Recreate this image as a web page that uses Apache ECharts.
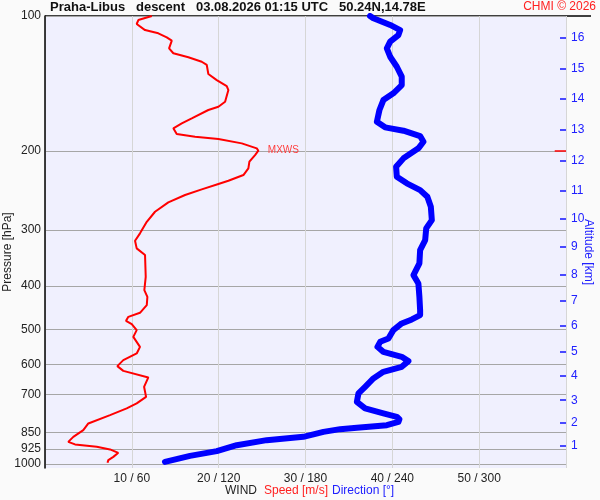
<!DOCTYPE html>
<html>
<head>
<meta charset="utf-8">
<script src="https://cdn.jsdelivr.net/npm/echarts@6/dist/echarts.min.js"></script>
<style>
  html, body { margin: 0; padding: 0; background: #fafafa; }
  #chart { width: 600px; height: 500px; }
</style>
</head>
<body>
<div id="chart"></div>
<script>
const FONT = '"Liberation Sans", Arial, sans-serif';

// pressure levels on the left axis
const pressureTicks = [100, 200, 300, 400, 500, 600, 700, 850, 925, 1000];
// altitude marks on the right axis (km and the pressure where they sit)
const altKm = [1, 2, 3, 4, 5, 6, 7, 8, 9, 10, 11, 12, 13, 14, 15, 16];
const altP = [910, 809, 720, 636, 560, 491, 431, 377, 327, 284, 245, 210, 179, 153, 131, 112];

// wind speed profile [m/s] vs pressure [hPa]
const speedP = [100, 102.1, 104.2, 107.5, 109.3, 111.6, 113.5, 118.1, 121.1, 123.6,
  126.5, 128.6, 134.7, 139.0, 143.3, 146.3, 155.4, 159.4, 162.1, 169.2,
  173.6, 178.1, 183.4, 186.0, 188.2, 192.4, 197.4, 199.8, 204.3, 211.4,
  218.8, 226.4, 233.2, 237.1, 243.7, 250.9, 260.5, 273.4, 287.9, 305.5,
  317.4, 330.0, 341.6, 381.9, 409.0, 423.3, 441.7, 459.5, 469.1, 478.8,
  487.0, 502.3, 519.9, 547.3, 566.2, 586.1, 604.4, 619.2, 640.5, 672.1,
  707.6, 732.0, 751.1, 777.4, 811.3, 839.7, 869.1, 891.7, 903.7, 914.9,
  927.2, 943.6, 963.2, 979.7, 993.3];
const speedV = [12.3, 10.75, 10.56, 11.52, 13.05, 14.02, 14.6, 14.29, 14.78, 16.51,
  18.05, 18.63, 18.81, 19.78, 20.93, 21.12, 20.74, 19.97, 18.81, 16.9,
  15.75, 14.78, 15.17, 17.28, 19.97, 22.66, 24.39, 24.57, 24.19, 23.54,
  23.42, 22.85, 21.12, 19.97, 18.05, 16.13, 14.2, 12.67, 11.72, 10.94,
  10.37, 10.56, 11.52, 11.6, 11.44, 11.79, 11.72, 10.94, 9.6, 9.33,
  9.99, 10.56, 10.17, 10.94, 10.56, 9.02, 8.33, 9.02, 11.9, 11.41,
  11.64, 10.56, 9.41, 7.49, 4.99, 4.41, 3.26, 2.68, 3.46, 5.96,
  7.49, 8.44, 7.87, 7.29, 7.2];

// wind direction profile [deg] vs pressure [hPa]
const dirP = [100, 101.2, 104.7, 107.5, 110.3, 114.1, 118.1, 123.3, 129.8, 136.6,
  142.6, 148.8, 154.0, 162.1, 172.2, 177.2, 180.3, 185.3, 190.8, 197.4,
  207.8, 217.0, 228.4, 236.3, 244.6, 253.2, 266.6, 285.4, 297.8, 316.2,
  333.0, 356.5, 378.6, 395.1, 423.3, 453.2, 465.0, 475.4, 485.3, 502.3,
  524.2, 533.4, 547.3, 561.6, 576.2, 589.0, 606.5, 622.3, 643.8, 672.1,
  695.3, 725.9, 751.1, 770.6, 784.2, 793.5, 804.6, 818.4, 829.8, 835.4,
  847.1, 869.1, 884.0, 907.1, 935.4, 958.3, 988.3];
const dirV = [224.6, 226.9, 238.5, 245.4, 244.2, 238.5, 236.2, 238.5, 243.1, 246.5,
  246.5, 240.7, 233.8, 231.1, 229.3, 235.0, 247.7, 259.2, 261.5, 258.0,
  247.7, 242.6, 243.1, 250.0, 259.2, 264.2, 266.6, 267.3, 263.4, 262.7,
  259.2, 258.7, 254.6, 258.0, 258.7, 259.2, 259.2, 253.5, 246.5, 240.7,
  237.3, 231.6, 229.7, 233.8, 246.5, 251.1, 246.5, 233.8, 226.9, 221.2,
  216.6, 215.5, 221.2, 233.8, 243.1, 244.9, 244.2, 236.2, 215.5, 203.9,
  192.4, 178.5, 153.2, 132.5, 118.7, 100.2, 82.9];

// maximum wind level
const mxwsSpeed = 24.57;
const mxwsP = 199.8;

const chart = echarts.init(document.getElementById('chart'));

chart.setOption({
  backgroundColor: '#fafafa',
  animation: false,
  textStyle: { fontFamily: FONT },
  title: [
    {
      text: 'Praha-Libus   descent   03.08.2026 01:15 UTC   50.24N,14.78E',
      left: 50,
      top: 0,
      padding: [1, 0, 0, 0],
      textStyle: { fontFamily: FONT, fontSize: 13, fontWeight: 'bold', color: '#111' },
    },
    {
      text: 'CHMI © 2026',
      right: 4,
      top: 0,
      padding: [1, 0, 0, 0],
      textStyle: { fontFamily: FONT, fontSize: 12, fontWeight: 'normal', color: '#ff2020' },
    },
  ],
  grid: {
    left: 45, right: 34, top: 16, bottom: 32,
    show: true, backgroundColor: '#f0f0fe', borderWidth: 0,
  },
  xAxis: [
    {
      type: 'value',
      min: 0,
      max: 60,
      interval: 10,
      axisLine: { show: false },
      axisTick: { show: false },
      splitLine: { show: true, lineStyle: { color: '#d6d6d6', width: 1 } },
      axisLabel: {
        color: '#222',
        fontSize: 12,
        fontFamily: FONT,
        margin: 5,
        formatter: (v) => (v === 0 || v === 60 ? '' : v + ' / ' + v * 6),
      },
    },
    { type: 'value', min: 0, max: 360, show: false },
  ],
  yAxis: [
    {
      type: 'log',
      logBase: 10,
      min: 100,
      max: 1020,
      inverse: true,
      position: 'left',
      axisLine: { show: true, onZero: false, lineStyle: { color: '#000', width: 1.5 } },
      axisTick: { show: false, customValues: pressureTicks },
      splitLine: { show: true, lineStyle: { color: '#a6a6a6', width: 1.2 } },
      axisLabel: {
        customValues: pressureTicks,
        color: '#222',
        fontSize: 12,
        fontFamily: FONT,
        margin: 4,
        formatter: (v) => String(Math.round(v)),
      },
    },
    {
      type: 'log',
      logBase: 10,
      min: 100,
      max: 1020,
      inverse: true,
      position: 'right',
      axisLine: { show: false, onZero: false },
      splitLine: { show: false },
      axisTick: {
        show: true,
        inside: true,
        length: 6,
        customValues: altP,
        lineStyle: { color: '#1010ff', width: 1.5 },
      },
      axisLabel: {
        customValues: altP,
        color: '#2020ff',
        fontSize: 12,
        fontFamily: FONT,
        margin: 5,
        formatter: (v) => {
          let best = 0;
          altP.forEach((p, i) => { if (Math.abs(p - v) < Math.abs(altP[best] - v)) best = i; });
          return String(altKm[best]);
        },
      },
    },
  ],
  graphic: [
    { type: 'line', shape: { x1: 45, y1: 16, x2: 591, y2: 16 }, style: { stroke: '#000', lineWidth: 1.5 } },
    {
      type: 'text', x: 8, y: 252, rotation: Math.PI / 2,
      style: { text: 'Pressure [hPa]', fill: '#222', font: '12px ' + FONT, textAlign: 'center', textVerticalAlign: 'middle' },
    },
    {
      type: 'text', x: 588, y: 252, rotation: -Math.PI / 2,
      style: { text: 'Altitude [km]', fill: '#2020ff', font: '12px ' + FONT, textAlign: 'center', textVerticalAlign: 'middle' },
    },
    { type: 'text', x: 225, y: 485, style: { text: 'WIND', fill: '#222', font: '12px ' + FONT } },
    { type: 'text', x: 264, y: 485, style: { text: 'Speed [m/s]', fill: '#ff2020', font: '12px ' + FONT } },
    { type: 'text', x: 332, y: 485, style: { text: 'Direction [°]', fill: '#2020ff', font: '12px ' + FONT } },
  ],
  series: [
    {
      name: 'Speed',
      type: 'line',
      xAxisIndex: 0,
      yAxisIndex: 0,
      showSymbol: false,
      clip: true,
      data: speedP.map((p, i) => [speedV[i], p]),
      lineStyle: { color: '#ff0000', width: 2 },
      itemStyle: { color: '#ff0000' },
      markPoint: {
        symbol: 'circle',
        symbolSize: 1,
        itemStyle: { color: 'transparent' },
        label: { show: true, position: 'right', distance: 9, formatter: 'MXWS', color: '#ff4040', fontSize: 10, fontFamily: FONT },
        data: [{ coord: [mxwsSpeed, mxwsP] }],
      },
      markLine: {
        silent: true,
        symbol: 'none',
        label: { show: false },
        lineStyle: { color: '#ff0000', width: 1.5, type: 'solid' },
        data: [[{ coord: [58.7, mxwsP] }, { coord: [60, mxwsP] }]],
      },
    },
    {
      name: 'Direction',
      type: 'line',
      xAxisIndex: 1,
      yAxisIndex: 0,
      showSymbol: false,
      data: dirP.map((p, i) => [dirV[i], p]),
      lineStyle: { color: '#0000ff', width: 6, cap: 'round', join: 'round' },
      itemStyle: { color: '#0000ff' },
    },
  ],
});
</script>
</body>
</html>
